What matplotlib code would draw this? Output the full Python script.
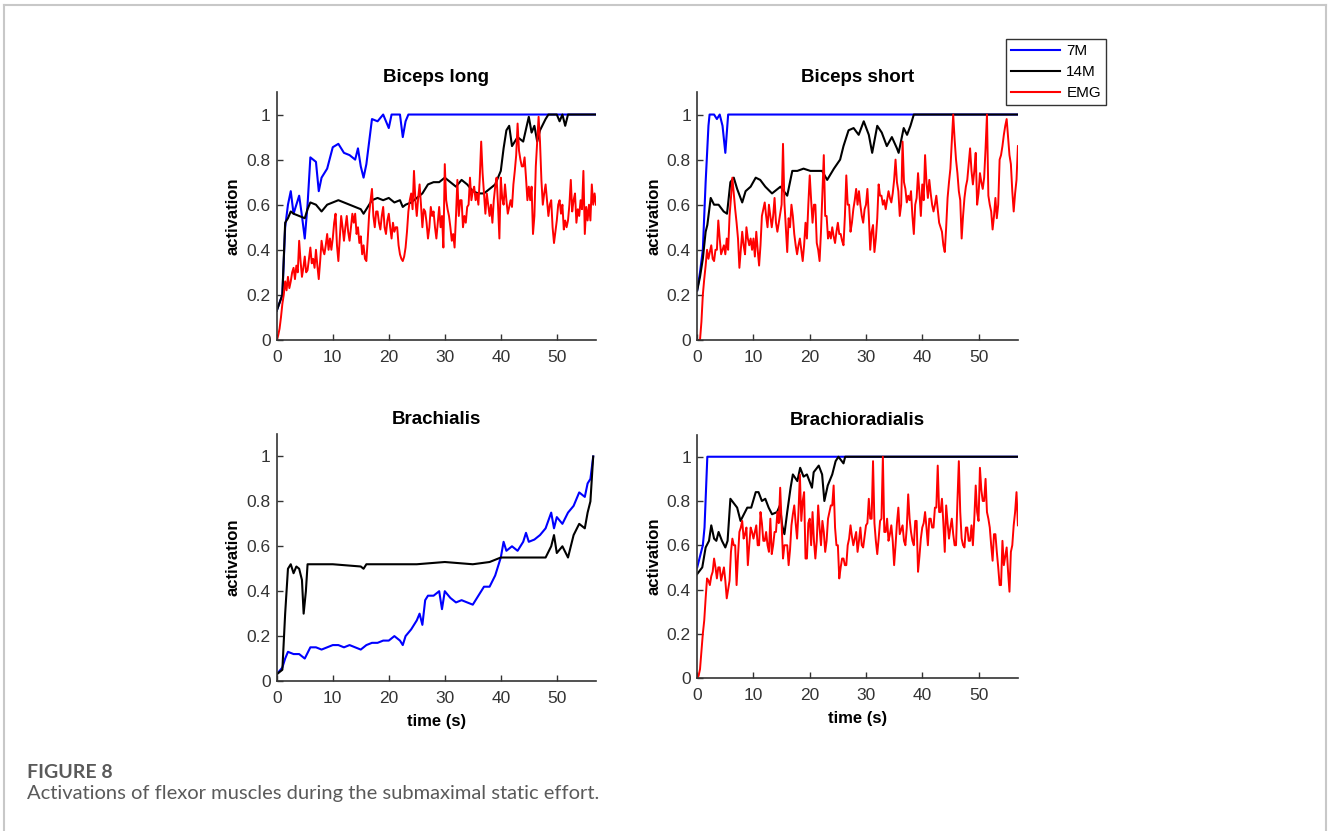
import matplotlib.pyplot as plt
import numpy as np
from matplotlib.lines import Line2D

plt.rcParams['font.family'] = ['Liberation Sans', 'DejaVu Sans']

# ---- values ----
titles = ['Biceps long', 'Biceps short', 'Brachialis', 'Brachioradialis']
series_names = ['7M', '14M', 'EMG']
x_ticks = [0, 10, 20, 30, 40, 50]
y_ticks = [0, 0.2, 0.4, 0.6, 0.8, 1]
y_tick_labels = ['0', '0.2', '0.4', '0.6', '0.8', '1']
emg_step = 0.25  # seconds between EMG samples

# Biceps long
bl_7m = [(0, 0.13), (1, 0.2), (1.5, 0.5), (2, 0.6), (2.5, 0.66), (3, 0.56), (3.5, 0.6), (4, 0.64),
         (4.5, 0.55), (5, 0.45), (5.5, 0.6), (6, 0.81), (7, 0.79), (7.5, 0.66), (8, 0.72), (9, 0.76),
         (10, 0.855), (11, 0.87), (12, 0.83), (13, 0.82), (14, 0.8), (14.5, 0.85), (15, 0.77),
         (15.5, 0.72), (16, 0.78), (16.5, 0.88), (17, 0.98), (18, 0.97), (19, 1.0), (20, 0.94),
         (20.5, 1.0), (22, 1.0), (22.5, 0.9), (23, 0.97), (23.5, 1.0), (57, 1.0)]
bl_14m = [(0, 0.13), (1, 0.2), (1.5, 0.52), (2, 0.54), (2.5, 0.57), (3, 0.56), (4, 0.55), (5, 0.54),
          (5.5, 0.58), (6, 0.61), (7, 0.6), (8, 0.57), (9, 0.6), (10, 0.61), (11, 0.62), (12, 0.61),
          (13, 0.6), (14, 0.59), (15, 0.58), (15.5, 0.56), (16, 0.58), (17, 0.62), (18, 0.63),
          (19, 0.62), (20, 0.63), (21, 0.61), (22, 0.62), (22.5, 0.59), (23, 0.6), (24, 0.61),
          (25, 0.63), (26, 0.65), (27, 0.69), (28, 0.7), (29, 0.7), (30, 0.72), (31, 0.7), (32, 0.68),
          (33, 0.71), (34, 0.69), (35, 0.66), (36, 0.65), (37, 0.65), (38, 0.67), (39, 0.69),
          (40, 0.75), (40.5, 0.85), (41, 0.93), (41.5, 0.95), (42, 0.86), (43, 0.9), (44, 0.88),
          (45, 0.99), (45.5, 0.92), (46, 0.95), (46.5, 0.88), (47, 0.93), (48, 0.98), (48.5, 1.0),
          (50, 1.0), (50.5, 0.97), (51, 1.0), (51.5, 0.95), (52, 1.0), (57, 1.0)]
bl_emg = [0, 0.02, 0.05, 0.1, 0.16, 0.2, 0.26, 0.22,
          0.28, 0.23, 0.26, 0.3, 0.32, 0.27, 0.33, 0.3,
          0.44, 0.35, 0.28, 0.32, 0.37, 0.3, 0.31, 0.36,
          0.41, 0.34, 0.36, 0.32, 0.4, 0.33, 0.27, 0.35,
          0.44, 0.4, 0.38, 0.42, 0.47, 0.4, 0.45, 0.4,
          0.45, 0.52, 0.56, 0.42, 0.35, 0.45, 0.55, 0.5,
          0.44, 0.5, 0.55, 0.48, 0.44, 0.5, 0.56, 0.52,
          0.56, 0.47, 0.5, 0.43, 0.46, 0.38, 0.42, 0.36,
          0.35, 0.45, 0.56, 0.62, 0.67, 0.55, 0.5, 0.57,
          0.57, 0.52, 0.49, 0.55, 0.59, 0.5, 0.47, 0.53,
          0.56, 0.5, 0.45, 0.52, 0.48, 0.5, 0.5, 0.42,
          0.38, 0.36, 0.35, 0.37, 0.41, 0.48, 0.57, 0.62,
          0.65, 0.58, 0.75, 0.62, 0.55, 0.63, 0.69, 0.6,
          0.5, 0.58, 0.57, 0.52, 0.45, 0.5, 0.59, 0.55,
          0.57, 0.5, 0.45, 0.52, 0.59, 0.5, 0.55, 0.41,
          0.78, 0.62, 0.58, 0.55, 0.5, 0.44, 0.47, 0.41,
          0.55, 0.71, 0.55, 0.62, 0.62, 0.5, 0.55, 0.52,
          0.59, 0.6, 0.72, 0.62, 0.66, 0.68, 0.62, 0.65,
          0.6, 0.72, 0.88, 0.74, 0.65, 0.56, 0.65, 0.6,
          0.55, 0.6, 0.52, 0.62, 0.68, 0.72, 0.6, 0.45,
          0.72, 0.63, 0.6, 0.69, 0.62, 0.56, 0.59, 0.62,
          0.59, 0.69, 0.75, 0.82, 0.96, 0.84, 0.8, 0.77,
          0.77, 0.81, 0.72, 0.62, 0.68, 0.62, 0.68, 0.47,
          0.55, 0.77, 0.88, 0.99, 0.88, 0.71, 0.6, 0.65,
          0.69, 0.62, 0.55, 0.6, 0.62, 0.5, 0.43, 0.48,
          0.53, 0.6, 0.62, 0.56, 0.6, 0.49, 0.53, 0.5,
          0.53, 0.6, 0.71, 0.57, 0.62, 0.65, 0.52, 0.58,
          0.55, 0.62, 0.58, 0.75, 0.47, 0.59, 0.53, 0.6,
          0.53, 0.69, 0.6, 0.65, 0.6]

# Biceps short
bs_7m = [(0, 0.22), (0.5, 0.3), (1, 0.4), (1.5, 0.7), (2, 0.95), (2.2, 1.0), (3, 1.0), (3.5, 0.98),
         (4, 1.0), (4.5, 0.95), (5, 0.83), (5.5, 1.0), (57, 1.0)]
bs_14m = [(0, 0.22), (0.5, 0.28), (1, 0.36), (1.5, 0.48), (1.8, 0.51), (2.4, 0.63), (3, 0.6),
          (3.8, 0.6), (4.7, 0.57), (5.3, 0.56), (5.9, 0.7), (6.5, 0.72), (7.1, 0.67), (8, 0.61),
          (8.6, 0.66), (9.5, 0.68), (10.4, 0.72), (11.2, 0.71), (12.1, 0.68), (13.3, 0.65),
          (14.8, 0.68), (16, 0.64), (16.9, 0.75), (17.8, 0.75), (18.9, 0.76), (20.1, 0.75),
          (21, 0.75), (22.2, 0.75), (23.1, 0.71), (24.3, 0.76), (25.4, 0.8), (26, 0.86),
          (26.9, 0.93), (27.8, 0.94), (28.7, 0.91), (29.6, 0.97), (30.5, 0.91), (31.1, 0.83),
          (32, 0.95), (32.8, 0.92), (33.7, 0.86), (34.6, 0.9), (35.5, 0.85), (35.8, 0.83),
          (36.7, 0.94), (37.3, 0.91), (37.9, 0.95), (38.5, 1.0), (57, 1.0)]
bs_emg = [0, 0, 0, 0.08, 0.2, 0.27, 0.33, 0.4,
          0.36, 0.39, 0.42, 0.36, 0.35, 0.4, 0.4, 0.53,
          0.45, 0.38, 0.4, 0.42, 0.38, 0.45, 0.4, 0.55,
          0.63, 0.72, 0.65, 0.58, 0.52, 0.45, 0.32, 0.4,
          0.48, 0.42, 0.38, 0.5, 0.45, 0.42, 0.45, 0.4,
          0.45, 0.37, 0.48, 0.4, 0.33, 0.42, 0.55, 0.58,
          0.61, 0.55, 0.5, 0.6, 0.55, 0.5, 0.55, 0.63,
          0.52, 0.48, 0.52, 0.56, 0.6, 0.87, 0.61, 0.5,
          0.39, 0.54, 0.5, 0.6, 0.55, 0.47, 0.42, 0.38,
          0.42, 0.45, 0.4, 0.35, 0.42, 0.52, 0.45, 0.6,
          0.73, 0.62, 0.52, 0.6, 0.6, 0.43, 0.4, 0.35,
          0.48, 0.65, 0.82, 0.55, 0.55, 0.45, 0.48, 0.45,
          0.5, 0.46, 0.43, 0.48, 0.52, 0.47, 0.47, 0.44,
          0.42, 0.55, 0.73, 0.6, 0.6, 0.48, 0.52, 0.58,
          0.62, 0.67, 0.6, 0.66, 0.6, 0.55, 0.52, 0.58,
          0.6, 0.67, 0.55, 0.4, 0.48, 0.51, 0.39, 0.45,
          0.54, 0.69, 0.64, 0.64, 0.6, 0.62, 0.58, 0.62,
          0.66, 0.63, 0.61, 0.65, 0.71, 0.8, 0.7, 0.66,
          0.55, 0.6, 0.88, 0.7, 0.67, 0.61, 0.64, 0.62,
          0.66, 0.55, 0.47, 0.6, 0.63, 0.74, 0.65, 0.55,
          0.69, 0.62, 0.82, 0.7, 0.63, 0.71, 0.65, 0.6,
          0.57, 0.6, 0.64, 0.58, 0.52, 0.5, 0.48, 0.42,
          0.39, 0.5, 0.63, 0.7, 0.76, 0.88, 1.0, 0.89,
          0.8, 0.74, 0.66, 0.62, 0.45, 0.55, 0.63, 0.68,
          0.71, 0.78, 0.85, 0.75, 0.69, 0.75, 0.83, 0.6,
          0.65, 0.74, 0.7, 0.67, 0.72, 0.85, 1.0, 0.64,
          0.6, 0.57, 0.49, 0.55, 0.63, 0.54, 0.6, 0.8,
          0.82, 0.86, 0.91, 0.95, 0.98, 0.9, 0.82, 0.78,
          0.66, 0.57, 0.65, 0.71, 0.86]

# Brachialis (no EMG trace)
br_7m = [(0, 0.03), (1, 0.06), (1.5, 0.1), (2, 0.13), (3, 0.12), (4, 0.12), (5, 0.1), (6, 0.15),
         (7, 0.15), (8, 0.14), (9, 0.15), (10, 0.16), (11, 0.16), (12, 0.15), (13, 0.16), (14, 0.15),
         (15, 0.14), (16, 0.16), (17, 0.17), (18, 0.17), (19, 0.18), (20, 0.18), (21, 0.2),
         (22, 0.18), (22.5, 0.16), (23, 0.2), (24, 0.23), (25, 0.27), (25.5, 0.3), (26, 0.25),
         (26.5, 0.36), (27, 0.38), (28, 0.38), (29, 0.4), (29.5, 0.32), (30, 0.4), (31, 0.37),
         (32, 0.35), (33, 0.36), (34, 0.35), (35, 0.34), (36, 0.38), (37, 0.42), (38, 0.42),
         (39, 0.47), (40, 0.55), (40.5, 0.62), (41, 0.58), (42, 0.6), (43, 0.58), (44, 0.62),
         (44.5, 0.66), (45, 0.62), (46, 0.63), (47, 0.65), (48, 0.68), (49, 0.75), (49.5, 0.68),
         (50, 0.73), (51, 0.7), (52, 0.75), (53, 0.78), (54, 0.84), (55, 0.82), (55.5, 0.88),
         (56, 0.9), (56.5, 1.0)]
br_14m = [(0, 0.03), (1, 0.05), (1.5, 0.3), (2, 0.5), (2.5, 0.52), (3, 0.48), (3.5, 0.51), (4, 0.5),
          (4.5, 0.45), (4.8, 0.3), (5.2, 0.4), (5.5, 0.52), (6, 0.52), (10, 0.52), (15, 0.51),
          (15.5, 0.5), (16, 0.52), (20, 0.52), (25, 0.52), (30, 0.53), (35, 0.52), (38, 0.53),
          (40, 0.55), (42, 0.55), (45, 0.55), (48, 0.55), (49, 0.6), (49.5, 0.65), (50, 0.57),
          (51, 0.6), (52, 0.55), (53, 0.65), (54, 0.7), (55, 0.68), (55.5, 0.75), (56, 0.8),
          (56.5, 1.0)]
br_emg = []

# Brachioradialis
brr_7m = [(0, 0.5), (0.5, 0.55), (1, 0.6), (1.3, 0.68), (1.8, 1.0), (57, 1.0)]
brr_14m = [(0, 0.47), (0.9, 0.5), (1.5, 0.59), (2.1, 0.62), (2.5, 0.69), (3, 0.63), (3.4, 0.62),
           (3.8, 0.66), (4.4, 0.62), (5, 0.59), (5.4, 0.62), (5.9, 0.81), (6.5, 0.79), (7.1, 0.77),
           (7.7, 0.71), (8.3, 0.74), (8.9, 0.77), (9.6, 0.77), (10.4, 0.84), (10.9, 0.84),
           (11.5, 0.8), (12.1, 0.81), (12.7, 0.77), (13.3, 0.74), (14.2, 0.75), (14.7, 0.78),
           (15.1, 0.69), (15.5, 0.65), (16, 0.75), (16.6, 0.86), (17, 0.92), (17.8, 0.89),
           (18.3, 0.95), (18.9, 0.91), (19.5, 0.92), (20.4, 0.86), (20.7, 0.93), (21.6, 0.96),
           (22.2, 0.92), (22.6, 0.8), (23.2, 0.87), (24, 0.92), (24.6, 0.98), (25.1, 1.0),
           (26, 0.97), (26.3, 1.0), (57, 1.0)]
brr_emg = [0, 0.01, 0.04, 0.12, 0.2, 0.26, 0.36, 0.45,
           0.44, 0.42, 0.46, 0.48, 0.54, 0.5, 0.45, 0.5,
           0.5, 0.44, 0.47, 0.5, 0.44, 0.36, 0.4, 0.44,
           0.57, 0.63, 0.6, 0.6, 0.42, 0.55, 0.66, 0.68,
           0.71, 0.63, 0.65, 0.68, 0.51, 0.6, 0.68, 0.66,
           0.63, 0.66, 0.69, 0.6, 0.6, 0.75, 0.7, 0.62,
           0.62, 0.66, 0.6, 0.57, 0.72, 0.56, 0.6, 0.66,
           0.66, 0.75, 0.7, 0.86, 0.7, 0.54, 0.6, 0.6,
           0.6, 0.51, 0.58, 0.69, 0.74, 0.78, 0.7, 0.63,
           0.75, 0.92, 0.71, 0.8, 0.84, 0.54, 0.54, 0.7,
           0.72, 0.6, 0.75, 0.62, 0.54, 0.62, 0.78, 0.68,
           0.6, 0.71, 0.66, 0.57, 0.62, 0.72, 0.75, 0.78,
           0.78, 0.87, 0.68, 0.6, 0.6, 0.45, 0.5, 0.54,
           0.54, 0.51, 0.51, 0.6, 0.63, 0.69, 0.64, 0.6,
           0.63, 0.66, 0.57, 0.62, 0.68, 0.6, 0.59, 0.64,
           0.69, 0.7, 0.81, 0.72, 0.72, 0.98, 0.7, 0.62,
           0.56, 0.63, 0.71, 0.72, 1.0, 0.66, 0.66, 0.72,
           0.62, 0.65, 0.69, 0.62, 0.51, 0.6, 0.7, 0.77,
           0.65, 0.67, 0.69, 0.62, 0.6, 0.68, 0.83, 0.72,
           0.66, 0.62, 0.6, 0.71, 0.71, 0.48, 0.55, 0.63,
           0.68, 0.7, 0.75, 0.68, 0.6, 0.72, 0.72, 0.68,
           0.68, 0.77, 0.77, 0.96, 0.75, 0.75, 0.81, 0.7,
           0.57, 0.78, 0.7, 0.63, 0.68, 0.72, 0.65, 0.6,
           0.6, 0.8, 0.98, 0.75, 0.63, 0.6, 0.59, 0.68,
           0.68, 0.62, 0.62, 0.69, 0.6, 0.72, 0.87, 0.75,
           0.71, 0.95, 0.85, 0.8, 0.8, 0.9, 0.75, 0.72,
           0.68, 0.6, 0.53, 0.65, 0.65, 0.57, 0.5, 0.42,
           0.42, 0.62, 0.51, 0.55, 0.59, 0.48, 0.39, 0.57,
           0.6, 0.69, 0.75, 0.84, 0.69]

panels = [(bl_7m, bl_14m, bl_emg), (bs_7m, bs_14m, bs_emg),
          (br_7m, br_14m, br_emg), (brr_7m, brr_14m, brr_emg)]

# ---- figure ----
colors = ['#0000ff', '#000000', '#ff0000']
axis_grey = '#333333'
positions = [[0.2084, 0.5909, 0.2404, 0.2984], [0.525, 0.5909, 0.2415, 0.2984],
             [0.2084, 0.1805, 0.2404, 0.2972], [0.525, 0.1841, 0.2415, 0.2929]]

fig = plt.figure(figsize=(13.28, 8.31), dpi=100)

for i, (title, pos, (s7, s14, emg)) in enumerate(zip(titles, positions, panels)):
    ax = fig.add_axes(pos)
    for pts, col in zip([s7, s14], colors[:2]):
        t, v = zip(*pts)
        ax.plot(t, v, color=col, lw=1.5)
    if emg:
        t = np.arange(len(emg)) * emg_step
        ax.plot(t, emg, color=colors[2], lw=1.4)

    ax.set_xlim(0, 57)
    ax.set_ylim(0, 1.1)
    ax.set_xticks(x_ticks)
    ax.set_yticks(y_ticks)
    ax.set_yticklabels(y_tick_labels)
    for side in ['top', 'right']:
        ax.spines[side].set_visible(False)
    for side in ['left', 'bottom']:
        ax.spines[side].set_color(axis_grey)
        ax.spines[side].set_linewidth(1.2)
    ax.tick_params(direction='in', length=4, width=1, colors=axis_grey, labelsize=12.5)
    ax.tick_params(axis='x', pad=7)
    ax.tick_params(axis='y', pad=4.5)
    ax.set_title(title, fontsize=13.5, fontweight='bold', pad=7)
    ax.set_ylabel('activation', fontsize=12, fontweight='bold')
    if i >= 2:
        ax.set_xlabel('time (s)', fontsize=12, fontweight='bold', labelpad=6)

handles = [Line2D([], [], color=c, lw=1.5) for c in colors]
leg = fig.legend(handles, series_names, loc='upper left',
                 bbox_to_anchor=(1006 / 1328, 1 - 39 / 831), fontsize=11,
                 handlelength=3.2, handletextpad=0.4, borderaxespad=0, borderpad=0.35,
                 labelspacing=0.45, fancybox=False, frameon=True)
leg.get_frame().set_edgecolor('black')
leg.get_frame().set_linewidth(1.0)

# page frame and caption
frame_col = '#c8c8c8'
fig.add_artist(Line2D([4 / 1328, 4 / 1328], [0, 1 - 5 / 831], color=frame_col, lw=1.5))
fig.add_artist(Line2D([4 / 1328, 1326 / 1328], [1 - 5 / 831, 1 - 5 / 831], color=frame_col, lw=1.5))
fig.add_artist(Line2D([1326 / 1328, 1326 / 1328], [0, 1 - 5 / 831], color=frame_col, lw=1.5))

fig.text(27 / 1328, 1 - 772 / 831, 'FIGURE 8', fontsize=14, fontweight='bold',
         color='#5a5a5a', family=['Lato', 'DejaVu Sans'], va='center')
fig.text(27 / 1328, 1 - 793 / 831, 'Activations of flexor muscles during the submaximal static effort.',
         fontsize=14.5, color='#5a5a5a', family=['Lato', 'DejaVu Sans'], va='center')

fig.savefig('out.png', dpi=100)
